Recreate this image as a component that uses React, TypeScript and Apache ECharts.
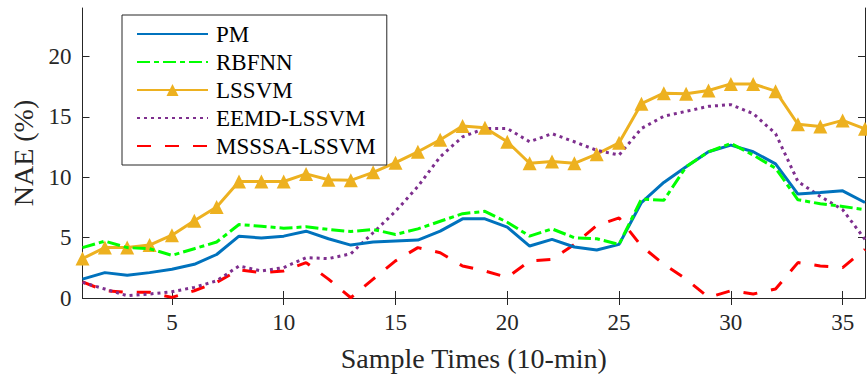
import React, { useEffect, useRef } from "react";
import * as echarts from "echarts";

const samples: number[] = Array.from({ length: 36 }, (_, i) => i + 1);
const xTicks = [5, 10, 15, 20, 25, 30, 35];
const yTicks = [0, 5, 10, 15, 20];

const pm = [1.56, 2.1, 1.89, 2.1, 2.38, 2.79, 3.6, 5.12, 4.96, 5.12, 5.53, 4.9, 4.38, 4.63, 4.71, 4.79, 5.53, 6.55, 6.55, 5.86, 4.3, 4.85, 4.22, 3.97, 4.44, 7.9, 9.56, 10.87, 12.1, 12.65, 12.1, 11.1, 8.6, 8.73, 8.87, 7.9];
const rbfnn = [4.17, 4.71, 4.17, 4.08, 3.53, 4.08, 4.63, 6.08, 5.94, 5.78, 5.89, 5.67, 5.5, 5.67, 5.26, 5.72, 6.35, 6.98, 7.17, 6.27, 5.12, 5.72, 4.99, 4.9, 4.44, 8.19, 8.08, 10.87, 12.1, 12.79, 11.83, 10.74, 8.13, 7.8, 7.58, 7.31];
const lssvm = [3.26, 4.17, 4.17, 4.38, 5.2, 6.4, 7.53, 9.64, 9.64, 9.64, 10.27, 9.78, 9.74, 10.4, 11.2, 12.1, 13.1, 14.24, 14.08, 12.93, 11.15, 11.3, 11.15, 11.9, 12.85, 16.08, 16.95, 16.9, 17.17, 17.72, 17.72, 17.12, 14.38, 14.2, 14.7, 14.0];
const eemd = [1.29, 0.74, 0.19, 0.33, 0.52, 0.88, 1.42, 2.65, 2.24, 2.52, 3.34, 3.26, 3.66, 5.4, 7.17, 9.23, 11.69, 13.34, 14.03, 14.03, 12.93, 13.6, 12.93, 12.22, 11.83, 14.03, 15.04, 15.45, 15.86, 16.0, 15.26, 13.6, 9.64, 8.41, 7.31, 4.85];
const msssa = [1.34, 0.6, 0.47, 0.47, 0.05, 0.6, 1.29, 2.33, 2.1, 2.24, 2.93, 1.56, 0.02, 1.56, 3.07, 4.17, 3.75, 2.65, 2.24, 1.7, 3.07, 3.2, 4.44, 6.0, 6.63, 4.3, 2.79, 1.56, 0.05, 0.6, 0.33, 0.74, 2.93, 2.65, 2.52, 4.03];

const FONT = "Liberation Serif";
const AXIS_COLOR = "#262626";

const pairs = (v: number[]) => samples.map((x, i) => [x, v[i]]);

export default function App() {
  const ref = useRef<HTMLDivElement>(null);
  useEffect(() => {
    if (!ref.current) return;
    const chart = echarts.init(ref.current, null, { renderer: "svg" });
    const hiddenAxisBase = {
      axisLine: { show: true, lineStyle: { color: AXIS_COLOR, width: 1 } },
      axisTick: { show: true, inside: true, length: 7, lineStyle: { color: AXIS_COLOR } },
      axisLabel: { show: false },
      splitLine: { show: false },
    };
    const noMarker = { itemStyle: { opacity: 0 } };
    chart.setOption({
      animation: false,
      backgroundColor: "#ffffff",
      grid: { left: 82.5, right: 2, top: 8, bottom: 78, containLabel: false },
      xAxis: [
        {
          type: "value",
          min: 1,
          max: 36,
          position: "bottom",
          name: "Sample Times (10-min)",
          nameLocation: "middle",
          nameGap: 46,
          nameTextStyle: { fontFamily: FONT, fontSize: 28, color: AXIS_COLOR },
          axisLine: { show: true, lineStyle: { color: AXIS_COLOR, width: 1 } },
          axisTick: { show: true, inside: true, length: 7, customValues: xTicks, lineStyle: { color: AXIS_COLOR } },
          axisLabel: { show: true, customValues: xTicks, margin: 13, fontFamily: FONT, fontSize: 23, color: AXIS_COLOR },
          splitLine: { show: false },
        },
        {
          type: "value",
          min: 1,
          max: 36,
          position: "top",
          ...hiddenAxisBase,
          axisTick: { ...hiddenAxisBase.axisTick, customValues: xTicks },
        },
      ],
      yAxis: [
        {
          type: "value",
          min: 0,
          max: 24,
          position: "left",
          name: "NAE (%)",
          nameLocation: "middle",
          nameGap: 43,
          nameTextStyle: { fontFamily: FONT, fontSize: 28, color: AXIS_COLOR },
          axisLine: { show: true, lineStyle: { color: AXIS_COLOR, width: 1 } },
          axisTick: { show: true, inside: true, length: 7, customValues: yTicks, lineStyle: { color: AXIS_COLOR } },
          axisLabel: { show: true, customValues: yTicks, margin: 11, fontFamily: FONT, fontSize: 23, color: AXIS_COLOR },
          splitLine: { show: false },
        },
        {
          type: "value",
          min: 0,
          max: 24,
          position: "right",
          ...hiddenAxisBase,
          axisTick: { ...hiddenAxisBase.axisTick, customValues: yTicks },
        },
      ],
      legend: {
        show: true,
        orient: "vertical",
        left: 122,
        top: 15,
        padding: [5, 11, 5, 14],
        itemGap: 0,
        itemWidth: 71,
        itemHeight: 15,
        backgroundColor: "#ffffff",
        borderColor: AXIS_COLOR,
        borderWidth: 1,
        textStyle: { fontFamily: FONT, fontSize: 23, color: "#000000", lineHeight: 28, padding: [0, 0, 0, 3] },
        data: [
          { name: "PM", ...noMarker },
          { name: "RBFNN", ...noMarker },
          { name: "LSSVM" },
          { name: "EEMD-LSSVM", ...noMarker },
          { name: "MSSSA-LSSVM", ...noMarker },
        ],
      },
      series: [
        {
          name: "PM",
          type: "line",
          data: pairs(pm),
          showSymbol: false,
          symbol: "none",
          lineStyle: { color: "#0072BD", width: 3 },
          itemStyle: { color: "#0072BD" },
          z: 3,
        },
        {
          name: "RBFNN",
          type: "line",
          data: pairs(rbfnn),
          showSymbol: false,
          symbol: "none",
          lineStyle: { color: "#00FF00", width: 3, type: [13, 4, 5, 4] },
          itemStyle: { color: "#00FF00" },
          z: 4,
        },
        {
          name: "LSSVM",
          type: "line",
          data: pairs(lssvm),
          symbol: "triangle",
          symbolSize: 14,
          lineStyle: { color: "#EDB120", width: 3 },
          itemStyle: { color: "#EDB120" },
          z: 2,
        },
        {
          name: "EEMD-LSSVM",
          type: "line",
          data: pairs(eemd),
          showSymbol: false,
          symbol: "none",
          lineStyle: { color: "#7E2F8E", width: 3, type: [3, 4] },
          itemStyle: { color: "#7E2F8E" },
          z: 2,
        },
        {
          name: "MSSSA-LSSVM",
          type: "line",
          data: pairs(msssa),
          showSymbol: false,
          symbol: "none",
          lineStyle: { color: "#FF0000", width: 3, type: [14, 14] },
          itemStyle: { color: "#FF0000" },
          z: 1,
        },
      ],
    });
    return () => chart.dispose();
  }, []);
  return <div ref={ref} style={{ width: 867, height: 377, position: "absolute", left: 0, top: 0 }} />;
}
